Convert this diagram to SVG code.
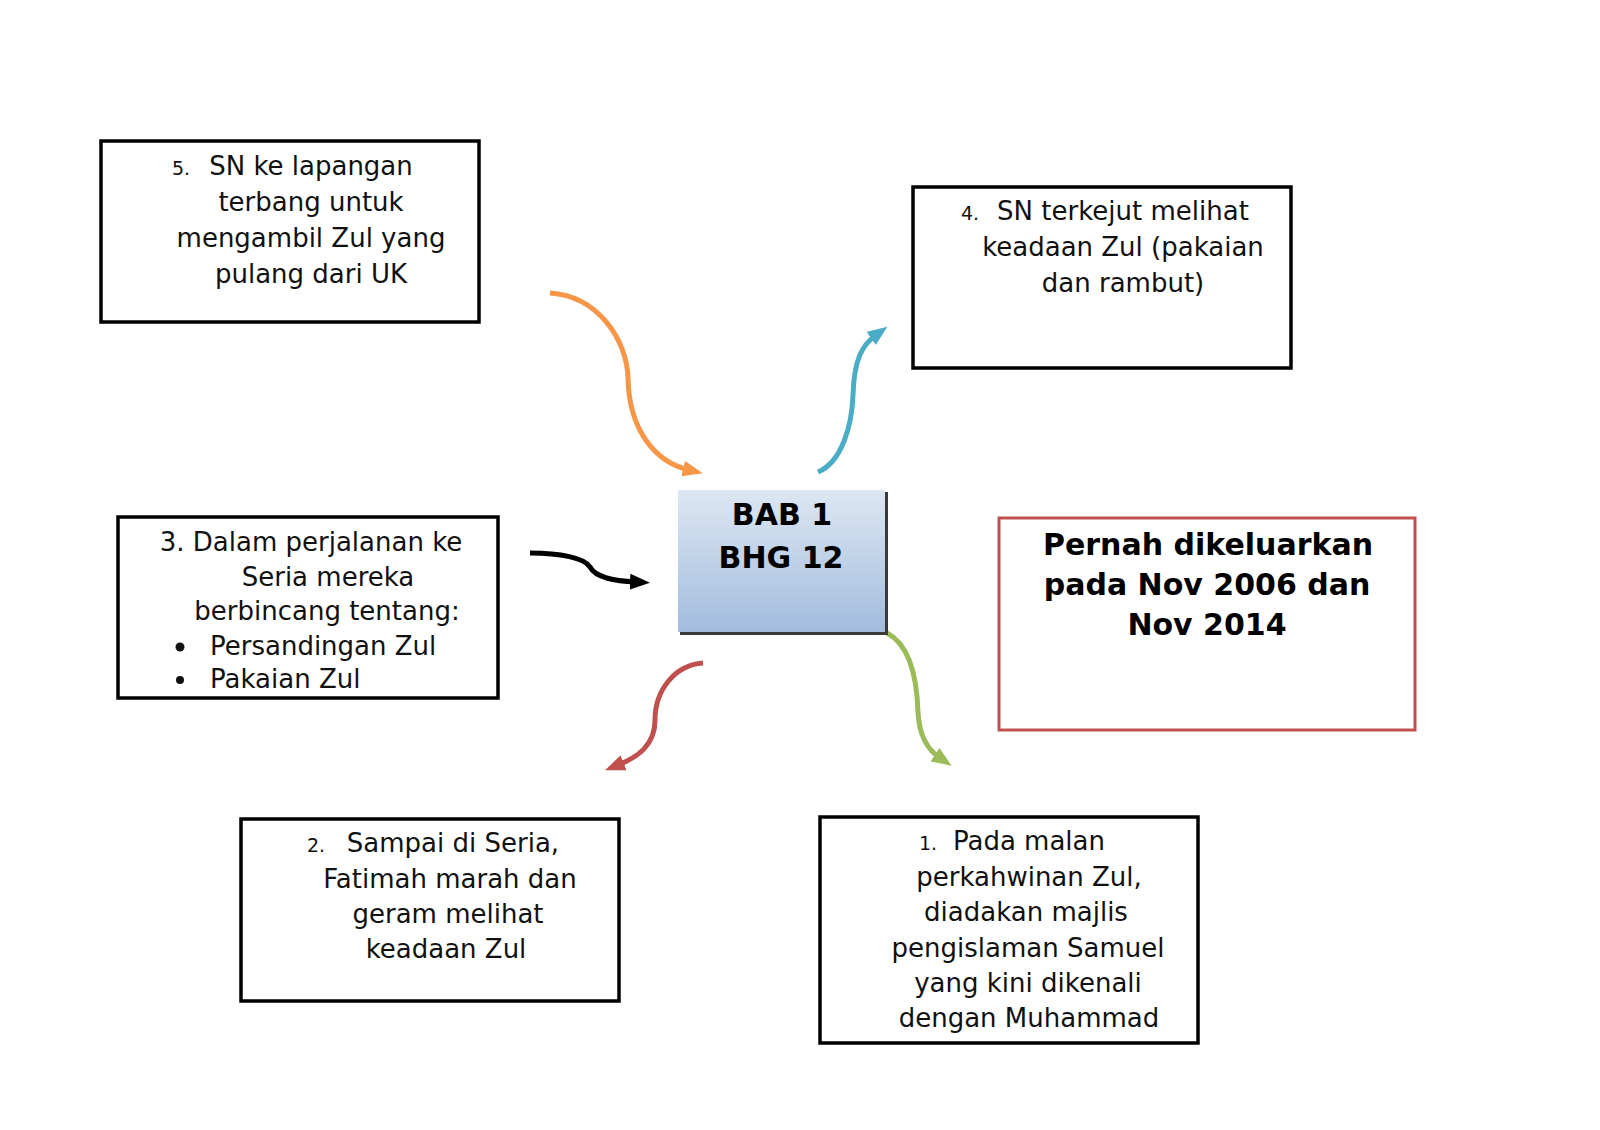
<svg xmlns="http://www.w3.org/2000/svg" width="1600" height="1130" viewBox="0 0 1600 1130">
<style>
.box{fill:#fff;stroke:#000;stroke-width:3.5}
.t{font-family:"DejaVu Sans","Liberation Sans",sans-serif;font-size:26px;fill:#111;text-anchor:middle}
.n{font-family:"DejaVu Sans","Liberation Sans",sans-serif;font-size:19px;fill:#111}
.b{font-family:"DejaVu Sans","Liberation Sans",sans-serif;font-size:30px;font-weight:bold;fill:#000;text-anchor:middle}
.c{fill:none;stroke-width:5;stroke-linecap:butt}
</style>
<defs>
<linearGradient id="g" x1="0" y1="0" x2="0" y2="1">
<stop offset="0" stop-color="#dde7f3"/>
<stop offset="1" stop-color="#a2bcdd"/>
</linearGradient>
<marker id="mo" markerUnits="userSpaceOnUse" markerWidth="20" markerHeight="16" refX="6" refY="8" orient="auto"><path d="M0,0 L20,8 L0,16 z" fill="#f79646"/></marker>
<marker id="mb" markerUnits="userSpaceOnUse" markerWidth="20" markerHeight="16" refX="6" refY="8" orient="auto"><path d="M0,0 L20,8 L0,16 z" fill="#4bacc6"/></marker>
<marker id="mk" markerUnits="userSpaceOnUse" markerWidth="20" markerHeight="16" refX="6" refY="8" orient="auto"><path d="M0,0 L20,8 L0,16 z" fill="#000"/></marker>
<marker id="mr" markerUnits="userSpaceOnUse" markerWidth="20" markerHeight="16" refX="6" refY="8" orient="auto"><path d="M0,0 L20,8 L0,16 z" fill="#c0504d"/></marker>
<marker id="mg" markerUnits="userSpaceOnUse" markerWidth="20" markerHeight="16" refX="6" refY="8" orient="auto"><path d="M0,0 L20,8 L0,16 z" fill="#9bbb59"/></marker>
</defs>
<rect width="1600" height="1130" fill="#fff"/>

<g id="connectors">
<path class="c" stroke="#f79646" marker-end="url(#mo)" d="M550,293 C598,296 627,340 628,378 C629,430 655,462 689,470"/>
<path class="c" stroke="#4bacc6" marker-end="url(#mb)" d="M818,472 C842,462 852,425 853,395 C854,360 862,345 876,335"/>
<path class="c" stroke="#000" marker-end="url(#mk)" d="M530,553 C560,553 585,558 590,567 C596,578 615,581 636,582"/>
<path class="c" stroke="#c0504d" marker-end="url(#mr)" d="M703,663 C675,665 655,690 655,720 C655,745 638,757 618,765"/>
<path class="c" stroke="#9bbb59" marker-end="url(#mg)" d="M887,633 C910,645 917,680 918,712 C919,735 928,750 940,758"/>
</g>

<g id="center">
<rect x="680" y="492" width="208" height="143" fill="#3a3a3a"/>
<rect x="678" y="490" width="207" height="142" fill="url(#g)"/>
<text class="b" x="782" y="525">BAB 1</text>
<text class="b" x="781" y="568">BHG 12</text>
</g>

<g id="node5">
<rect class="box" x="101" y="141" width="378" height="181"/>
<text class="n" x="172" y="175">5.</text>
<text class="t" x="311" y="175">SN ke lapangan</text>
<text class="t" x="311" y="211">terbang untuk</text>
<text class="t" x="311" y="247">mengambil Zul yang</text>
<text class="t" x="311" y="283">pulang dari UK</text>
</g>

<g id="node4">
<rect class="box" x="913" y="187" width="378" height="181"/>
<text class="n" x="961" y="220">4.</text>
<text class="t" x="1123" y="220">SN terkejut melihat</text>
<text class="t" x="1123" y="256">keadaan Zul (pakaian</text>
<text class="t" x="1123" y="292">dan rambut)</text>
</g>

<g id="node3">
<rect class="box" x="118" y="517" width="380" height="181"/>
<text class="t" x="311" y="551">3. Dalam perjalanan ke</text>
<text class="t" x="328" y="586">Seria mereka</text>
<text class="t" x="327" y="620">berbincang tentang:</text>
<circle cx="180" cy="647" r="4.5" fill="#111"/>
<text class="t" x="210" y="655" style="text-anchor:start">Persandingan Zul</text>
<circle cx="180" cy="680" r="4" fill="#111"/>
<text class="t" x="210" y="688" style="text-anchor:start">Pakaian Zul</text>
</g>

<g id="node2">
<rect class="box" x="241" y="819" width="378" height="182"/>
<text class="n" x="307" y="852">2.</text>
<text class="t" x="453" y="852">Sampai di Seria,</text>
<text class="t" x="450" y="888">Fatimah marah dan</text>
<text class="t" x="448" y="923">geram melihat</text>
<text class="t" x="446" y="958">keadaan Zul</text>
</g>

<g id="node1">
<rect class="box" x="820" y="817" width="378" height="226"/>
<text class="n" x="919" y="850">1.</text>
<text class="t" x="1029" y="850">Pada malan</text>
<text class="t" x="1029" y="886">perkahwinan Zul,</text>
<text class="t" x="1026" y="921">diadakan majlis</text>
<text class="t" x="1028" y="957">pengislaman Samuel</text>
<text class="t" x="1028" y="992">yang kini dikenali</text>
<text class="t" x="1029" y="1027">dengan Muhammad</text>
</g>

<g id="note">
<rect x="999" y="518" width="416" height="212" fill="#fff" stroke="#c0504d" stroke-width="3"/>
<text class="b" x="1208" y="555">Pernah dikeluarkan</text>
<text class="b" x="1207" y="595">pada Nov 2006 dan</text>
<text class="b" x="1207" y="635">Nov 2014</text>
</g>
</svg>
